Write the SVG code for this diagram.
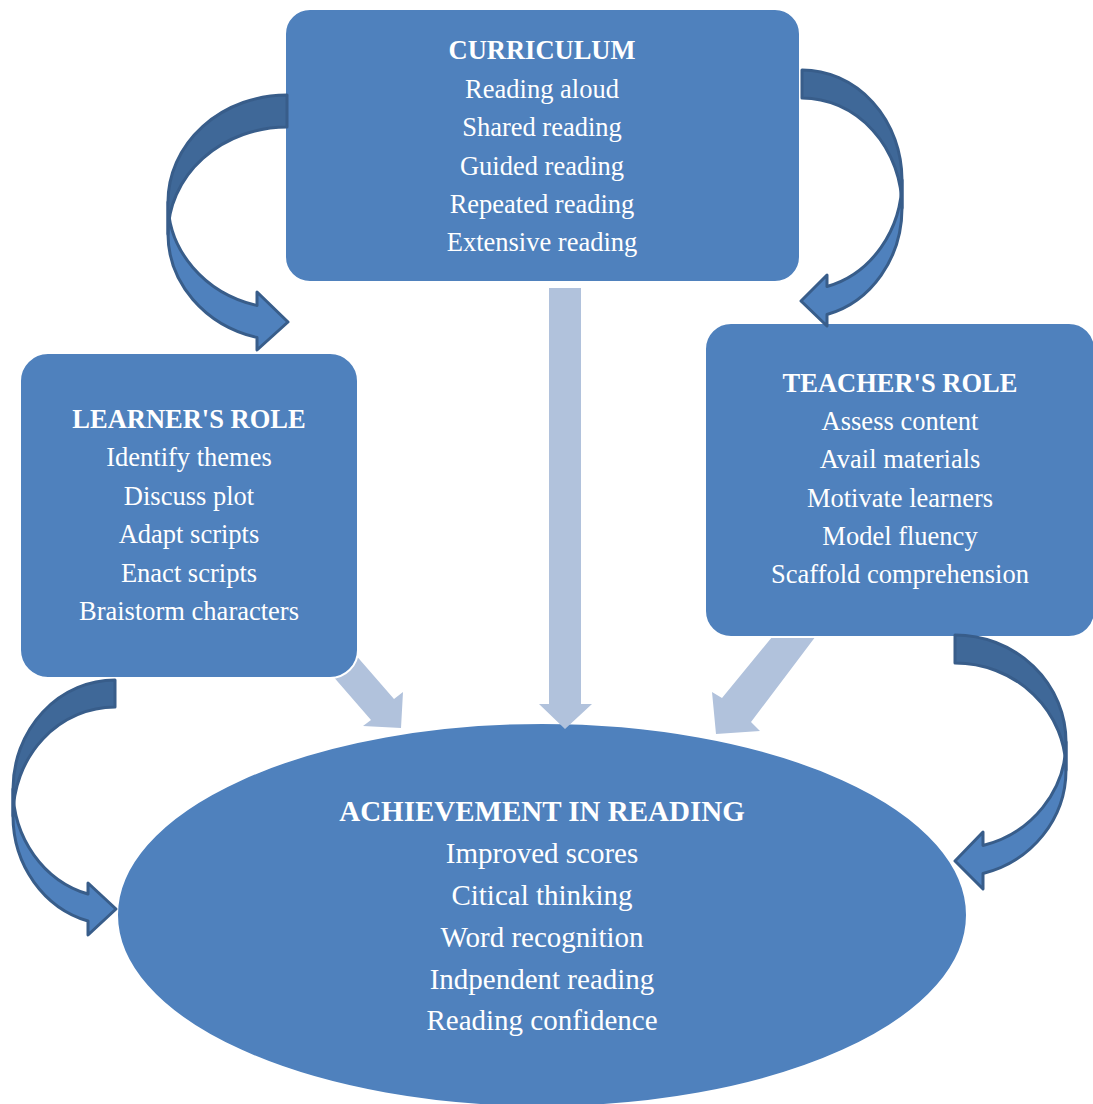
<svg xmlns="http://www.w3.org/2000/svg" width="1093" height="1104" viewBox="0 0 1093 1104">
  <style>
    .box { fill: #4F81BD; stroke: #FFFFFF; stroke-width: 2; }
    .flow { fill: #B1C2DC; stroke: none; }
    .front { fill: #4F81BD; stroke: #385D8A; stroke-width: 3; stroke-linejoin: round; }
    .back { fill: #3F6898; stroke: #385D8A; stroke-width: 3; stroke-linejoin: round; }
    text { font-family: "Liberation Serif", "Times New Roman", serif; fill: #FFFFFF; text-anchor: middle; }
    .t { font-size: 26.5px; }
    .h { font-size: 26.5px; font-weight: bold; }
    .et { font-size: 29px; }
    .eh { font-size: 29px; font-weight: bold; }
  </style>
  <rect width="1093" height="1104" fill="#FFFFFF"/>

  <!-- outcome ellipse -->
  <g id="achievement">
    <ellipse class="box" cx="542" cy="915" rx="425" ry="192"/>
    <text class="eh" x="542" y="821">ACHIEVEMENT IN READING</text>
    <text class="et" x="542" y="863">Improved scores</text>
    <text class="et" x="542" y="905">Citical thinking</text>
    <text class="et" x="542" y="947">Word recognition</text>
    <text class="et" x="542" y="989">Indpendent reading</text>
    <text class="et" x="542" y="1030">Reading confidence</text>
  </g>

  <!-- straight block arrows into the ellipse -->
  <g id="flows">
    <polygon class="flow" points="549,288 581,288 581,704 592,704 565,729 539,704 549,704"/>
    <polygon class="flow" points="327,622 394,699 403,692 401,728 363,726 371,720 305,644"/>
    <polygon class="flow" points="786,620 828,620 751,722 760,731 716,734 712,692 722,698"/>
  </g>

  <g id="curriculum">
    <rect class="box" x="285" y="9" width="515" height="273" rx="25"/>
    <text class="h" x="542" y="59">CURRICULUM</text>
    <text class="t" x="542" y="98">Reading aloud</text>
    <text class="t" x="542" y="136">Shared reading</text>
    <text class="t" x="542" y="175">Guided reading</text>
    <text class="t" x="542" y="213">Repeated reading</text>
    <text class="t" x="542" y="251">Extensive reading</text>
  </g>

  <g id="learner">
    <rect class="box" x="20" y="353" width="338" height="325" rx="28"/>
    <text class="h" x="189" y="428">LEARNER'S ROLE</text>
    <text class="t" x="189" y="466">Identify themes</text>
    <text class="t" x="189" y="505">Discuss plot</text>
    <text class="t" x="189" y="543">Adapt scripts</text>
    <text class="t" x="189" y="582">Enact scripts</text>
    <text class="t" x="189" y="620">Braistorm characters</text>
  </g>

  <g id="teacher">
    <rect class="box" x="705" y="323" width="390" height="314" rx="26"/>
    <text class="h" x="900" y="392">TEACHER'S ROLE</text>
    <text class="t" x="900" y="430">Assess content</text>
    <text class="t" x="900" y="468">Avail materials</text>
    <text class="t" x="900" y="507">Motivate learners</text>
    <text class="t" x="900" y="545">Model fluency</text>
    <text class="t" x="900" y="583">Scaffold comprehension</text>
  </g>

  <!-- curved arrows: lighter front band with head, darker back band -->
  <g id="connectors">
    <!-- curriculum to learner -->
    <path class="front" d="M168,202 A119,107 0 0 0 257,305.5 L257,292 L288,322 L257,350 L257,337.5 A119,107 0 0 1 168,234 Z"/>
    <path class="back" d="M287,95 A119,107 0 0 0 168,202 L168,234 A119,107 0 0 1 287,127 Z"/>
    <!-- curriculum to teacher -->
    <path class="front" d="M902,180 A100,110 0 0 1 827,286.5 L827,275 L801,301 L827,326 L827,314.5 A100,110 0 0 0 902,208 Z"/>
    <path class="back" d="M802,70 A100,110 0 0 1 902,180 L902,208 A100,110 0 0 0 802,98 Z"/>
    <!-- learner to achievement -->
    <path class="front" d="M13,789 A102,109 0 0 0 88,894 L88,883 L116,909 L88,935 L88,921 A102,109 0 0 1 13,816 Z"/>
    <path class="back" d="M115,680 A102,109 0 0 0 13,789 L13,816 A102,109 0 0 1 115,707 Z"/>
    <!-- teacher to achievement -->
    <path class="front" d="M1066,742 A111,107 0 0 1 983,845.5 L983,832 L955,861 L983,889 L983,873.5 A111,107 0 0 0 1066,770 Z"/>
    <path class="back" d="M955,635 A111,107 0 0 1 1066,742 L1066,770 A111,107 0 0 0 955,663 Z"/>
  </g>
</svg>
